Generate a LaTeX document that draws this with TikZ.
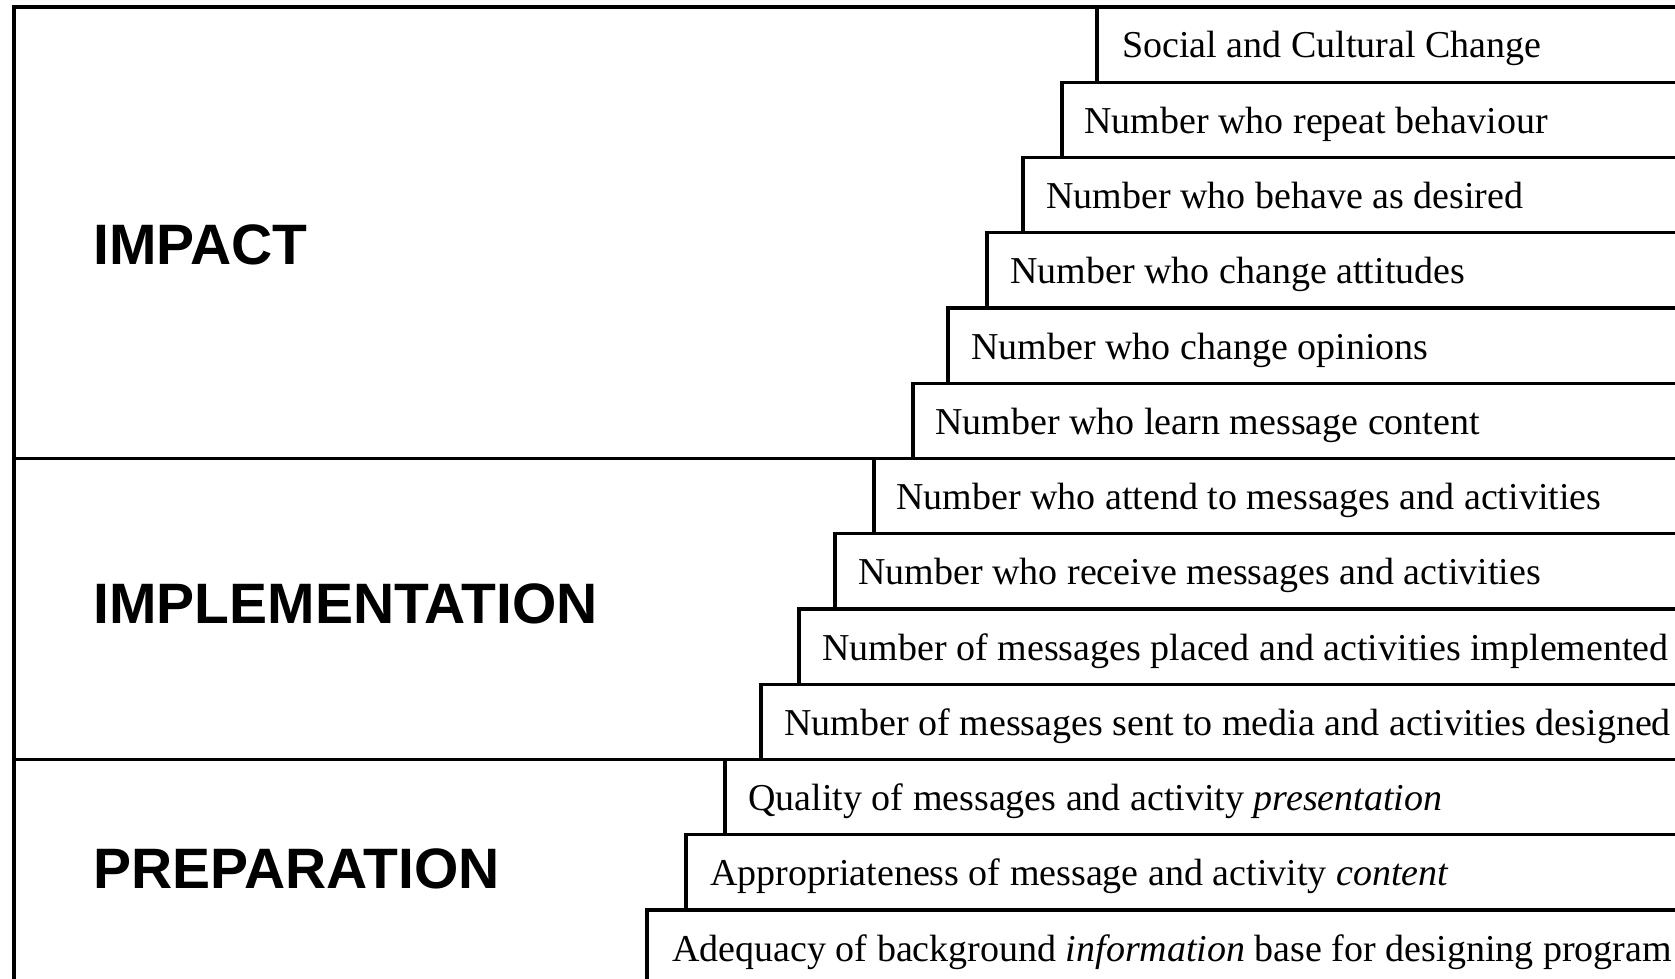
\documentclass[tikz,border=0pt]{standalone}
\usepackage{fontspec}
\setmainfont{Liberation Serif}
\newfontfamily\headfont{Liberation Sans}
\tikzset{
  box/.style={draw=black, line width=1.7pt},
  item/.style={anchor=base west, inner sep=0pt, font=\fontsize{19}{21}\selectfont},
  stage/.style={anchor=base west, inner sep=0pt, font=\headfont\bfseries\fontsize{28.5}{30}\selectfont}
}
\begin{document}
\begin{tikzpicture}[x=0.5pt, y=-0.5pt]
      \useasboundingbox (0,0) rectangle (1675,979);
      \fill[white] (0,0) rectangle (1675,979);
      % outer frame and stage dividers
      \draw[box] (14,1000) -- (14,7) -- (1720,7);
      \draw[box] (14,458.5) -- (900,458.5);
      \draw[box] (14,759.5) -- (740,759.5);
      % stepped rows, top to bottom
      \foreach \i/\x in {0/1097, 1/1062, 2/1023, 3/987, 4/948, 5/913, 6/874, 7/835, 8/799, 9/761, 10/725, 11/686, 12/647}
        \draw[box] (\x,{7+\i*75.25}) rectangle (1720,{82.25+\i*75.25});
      \node[stage] (impact) at (93,264) {IMPACT};
      \node[stage] (implementation) at (93,623) {IMPLEMENTATION};
      \node[stage] (preparation) at (93,888) {PREPARATION};
      \node[item] (social) at (1122,58) {Social and Cultural Change};
      \node[item] (repeat) at (1084,133.25) {Number who repeat behaviour};
      \node[item] (behave) at (1046,208.5) {Number who behave as desired};
      \node[item] (attitudes) at (1010,283.75) {Number who change attitudes};
      \node[item] (opinions) at (971,359) {Number who change opinions};
      \node[item] (learn) at (935,434.25) {Number who learn message content};
      \node[item] (attend) at (896,509.5) {Number who attend to messages and activities};
      \node[item] (receive) at (858,584.75) {Number who receive messages and activities};
      \node[item] (placed) at (822,660) {Number of messages placed and activities implemented};
      \node[item] (sent) at (784,735.25) {Number of messages sent to media and activities designed};
      \node[item] (quality) at (748,810.5) {Quality of messages and activity \textit{presentation}};
      \node[item] (content) at (710,885.75) {Appropriateness of message and activity \textit{content}};
      \node[item] (adequacy) at (672,961) {Adequacy of background \textit{information} base for designing program};
\end{tikzpicture}
\end{document}
